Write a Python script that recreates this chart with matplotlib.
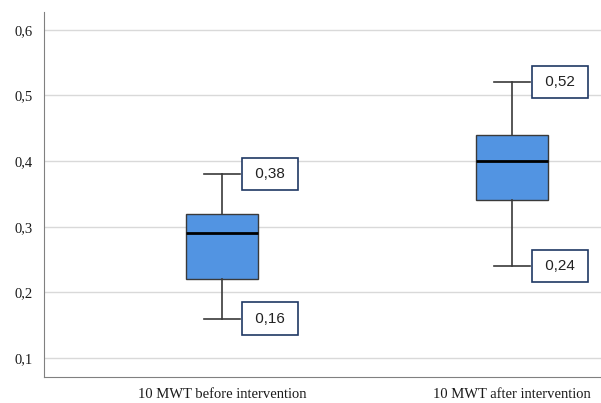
import matplotlib
matplotlib.use("Agg")
import matplotlib.pyplot as plt

# data
groups = ["10 MWT before intervention", "10 MWT after intervention"]
whislo = [0.16, 0.24]
q1 = [0.22, 0.34]
med = [0.29, 0.40]
q3 = [0.32, 0.44]
whishi = [0.38, 0.52]
yticks = [0.1, 0.2, 0.3, 0.4, 0.5, 0.6]

stats = []
for i in range(len(groups)):
    stats.append(dict(whislo=whislo[i], q1=q1[i], med=med[i], q3=q3[i],
                      whishi=whishi[i], fliers=[], label=groups[i]))

fig = plt.figure(figsize=(6.01, 4.03), dpi=100)
ax = fig.add_axes([0.0732, 0.0645, 0.9268, 0.9055])

pos = [1, 2]
ax.bxp(stats, positions=pos, widths=0.248, capwidths=0.124, patch_artist=True,
       showfliers=False,
       boxprops=dict(facecolor="#5294E2", edgecolor="#3a3a3a", linewidth=1),
       medianprops=dict(color="black", linewidth=2),
       whiskerprops=dict(color="#3a3a3a", linewidth=1.2),
       capprops=dict(color="#3a3a3a", linewidth=1.2),
       zorder=3)

# value labels next to the whisker caps
for p, lo, hi in zip(pos, whislo, whishi):
    for v in (lo, hi):
        txt = " " + ("%.2f" % v).replace(".", ",") + " "
        ax.annotate(txt, xy=(p + 0.062, v), xytext=(8, 0), textcoords="offset points",
                    ha="left", va="center", fontsize=11, family="Liberation Sans",
                    color="#222222",
                    bbox=dict(boxstyle="square,pad=0.6", fc="white", ec="#1F3864", lw=1.2),
                    zorder=5)

ax.set_xlim(0.386, 2.307)
ax.set_ylim(0.071, 0.627)
ax.set_yticks(yticks)
ax.set_yticklabels([("%.1f" % t).replace(".", ",") for t in yticks])
ax.set_xticks(pos)
ax.set_xticklabels(groups)
ax.tick_params(length=0, labelsize=10.5, pad=8, colors="#1a1a1a")
for lab in ax.get_xticklabels() + ax.get_yticklabels():
    lab.set_family("Liberation Serif")
ax.grid(axis="y", color="#d9d9d9", linewidth=1)
ax.set_axisbelow(True)
for s in ["top", "right"]:
    ax.spines[s].set_visible(False)
for s in ["left", "bottom"]:
    ax.spines[s].set_color("#808080")

plt.savefig("out.png", dpi=100)
